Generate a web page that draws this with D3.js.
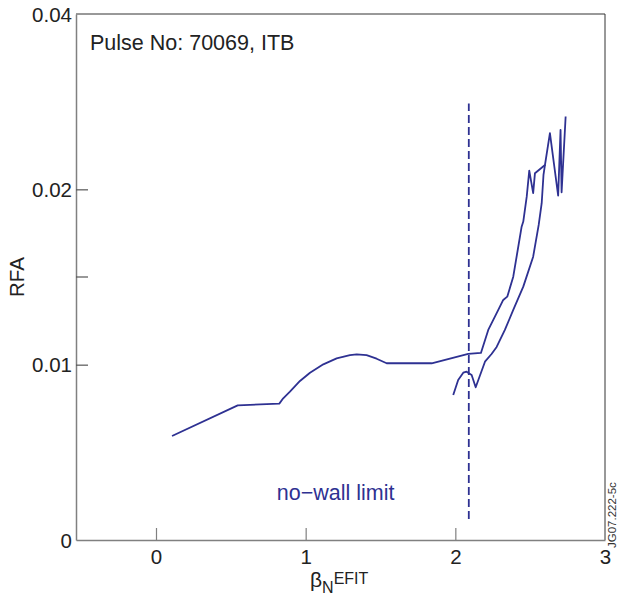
<!DOCTYPE html>
<meta charset="utf-8">
<script src="https://d3js.org/d3.v7.min.js"></script>
<style>
  body { margin: 0; background: #fff; }
  text { font-family: "Liberation Sans", Arial, sans-serif; }
</style>
<body>
<div id="chart"></div>
<script>

// beta_N vs RFA, main trace (rise, then up the left branch and through the zigzag)
var traceBeta = [0.107, 0.546, 0.824, 0.850, 0.895, 0.962, 1.029, 1.118, 1.207, 1.296, 1.341, 1.407, 1.474, 1.541,
  1.842, 2.086, 2.171, 2.220, 2.287, 2.320, 2.347, 2.387, 2.443, 2.454, 2.477, 2.494, 2.520, 2.532, 2.599,
  2.632, 2.687, 2.703, 2.710, 2.737];
var traceRfa = [0.00593, 0.00768, 0.00778, 0.00808, 0.00846, 0.00907, 0.00954, 0.01002, 0.01036, 0.01055, 0.01059, 0.01054, 0.01034, 0.01008,
  0.01008, 0.01061, 0.01067, 0.01198, 0.01312, 0.01369, 0.01388, 0.01502, 0.01787, 0.01816, 0.01958, 0.02107, 0.01978, 0.02092, 0.02139,
  0.02320, 0.01964, 0.02339, 0.01983, 0.02415];

// return branch, back down to the dip and the small arc
var returnBeta = [2.599, 2.589, 2.577, 2.557, 2.520, 2.454, 2.387, 2.331, 2.276, 2.242, 2.198, 2.136, 2.109, 2.075, 2.053, 2.019, 1.986];
var returnRfa = [0.02139, 0.02082, 0.01921, 0.01797, 0.01616, 0.01445, 0.01312, 0.01198, 0.01101, 0.01061, 0.01017, 0.00871, 0.00941, 0.00960, 0.00954, 0.00913, 0.00827];

// no-wall limit
var limitBeta = 2.09;
var limitRfa = [0.0012, 0.0249];

var xTicks = [0, 1, 2, 3];
var yTicks = [0, 0.01, 0.02, 0.03];
var yTickLabels = ["0", "0.01", "0.02", "0.04"];
var yMinorTicks = [0.015];

var margin = {top: 14, right: 13, bottom: 61, left: 76},
    width = 618 - margin.left - margin.right,
    height = 601 - margin.top - margin.bottom;

var blue = "#2e3192";

var svg = d3.select("#chart")
  .append("svg")
    .attr("width", 618)
    .attr("height", 601)
  .append("g")
    .attr("transform", "translate(" + margin.left + "," + margin.top + ")");

var x = d3.scaleLinear()
  .domain([-0.5345, 3])
  .range([0, width]);

var y = d3.scaleLinear()
  .domain([0, 0.03])
  .range([height, 0]);

// frame: top and right
svg.append("line")
  .attr("x1", 0).attr("x2", width).attr("y1", 0).attr("y2", 0)
  .attr("stroke", "#333").attr("stroke-width", 1);
svg.append("line")
  .attr("x1", width).attr("x2", width).attr("y1", 0).attr("y2", height)
  .attr("stroke", "#333").attr("stroke-width", 1);

// x axis
var xAxis = d3.axisBottom(x)
  .tickValues(xTicks)
  .tickSizeInner(-12)
  .tickSizeOuter(0)
  .tickPadding(9)
  .tickFormat(d3.format("d"));
var gx = svg.append("g")
  .attr("transform", "translate(0," + height + ")")
  .call(xAxis);
gx.select(".domain").attr("stroke", "#808080").attr("stroke-width", 1.5);
gx.selectAll(".tick line").attr("stroke", "#808080").attr("stroke-width", 1.2)
  .filter(function(d) { return d === 3; }).remove();
gx.selectAll(".tick text").attr("fill", "#222").style("font-size", "20.5px");

// y axis
var yAxis = d3.axisLeft(y)
  .tickValues(yTicks)
  .tickSizeInner(-12)
  .tickSizeOuter(0)
  .tickPadding(4)
  .tickFormat(function(d, i) { return yTickLabels[i]; });
var gy = svg.append("g").call(yAxis);
gy.select(".domain").attr("stroke", "#808080").attr("stroke-width", 1.5);
gy.selectAll(".tick line").attr("stroke", "#555").attr("stroke-width", 1.2)
  .filter(function(d) { return d === 0 || d === 0.03; }).remove();
gy.selectAll(".tick text").attr("fill", "#222").style("font-size", "20.5px")
  .attr("dy", "0.35em");

svg.selectAll(".minor")
  .data(yMinorTicks)
  .enter().append("line")
    .attr("x1", 0).attr("x2", 12)
    .attr("y1", function(d) { return y(d); })
    .attr("y2", function(d) { return y(d); })
    .attr("stroke", "#555").attr("stroke-width", 1.2);

// no-wall limit
svg.append("line")
  .attr("x1", x(limitBeta)).attr("x2", x(limitBeta))
  .attr("y1", y(limitRfa[0])).attr("y2", y(limitRfa[1]))
  .attr("stroke", blue)
  .attr("stroke-width", 1.8)
  .attr("stroke-dasharray", "8,4");

var line = d3.line()
  .x(function(d) { return x(d[0]); })
  .y(function(d) { return y(d[1]); });

svg.append("path")
  .datum(d3.zip(traceBeta, traceRfa))
  .attr("fill", "none")
  .attr("stroke", blue)
  .attr("stroke-width", 1.8)
  .attr("stroke-linejoin", "round")
  .attr("d", line);

svg.append("path")
  .datum(d3.zip(returnBeta, returnRfa))
  .attr("fill", "none")
  .attr("stroke", blue)
  .attr("stroke-width", 1.8)
  .attr("stroke-linejoin", "round")
  .attr("d", line);

// labels
svg.append("text")
  .attr("x", 14)
  .attr("y", 36)
  .attr("fill", "#222")
  .style("font-size", "21.5px")
  .text("Pulse No: 70069, ITB");

svg.append("text")
  .attr("x", x(1.2))
  .attr("y", 486)
  .attr("text-anchor", "middle")
  .attr("fill", blue)
  .style("font-size", "21.5px")
  .text("no\u2212wall limit");

svg.append("text")
  .attr("transform", "translate(" + (-52) + "," + (height / 2) + ") rotate(-90)")
  .attr("text-anchor", "middle")
  .attr("fill", "#222")
  .style("font-size", "20.5px")
  .text("RFA");

var xl = svg.append("text")
  .attr("x", 234)
  .attr("y", 573)
  .attr("fill", "#222")
  .style("font-size", "21px");
xl.append("tspan").text("\u03b2");
xl.append("tspan").attr("dy", 6).style("font-size", "16px").text("N");
xl.append("tspan").attr("dy", -9).style("font-size", "16px").text("EFIT");

svg.append("text")
  .attr("transform", "translate(" + (width + 11) + "," + (height + 8) + ") rotate(-90)")
  .attr("fill", "#333")
  .style("font-size", "11.5px")
  .text("JG07.222-5c");

</script>
</body>
